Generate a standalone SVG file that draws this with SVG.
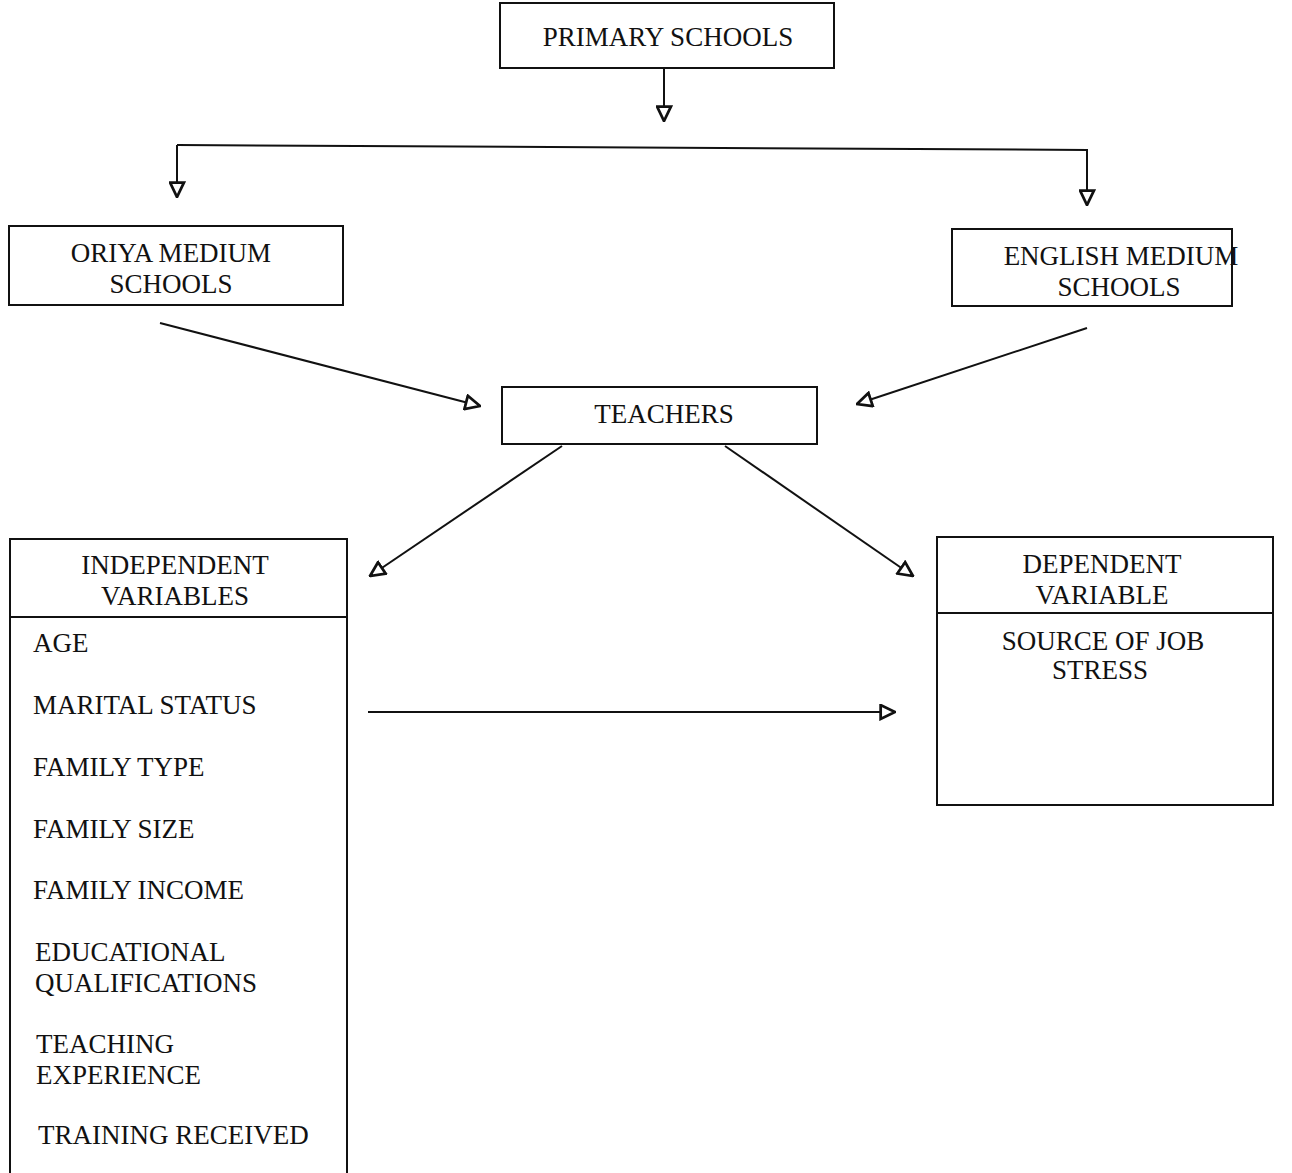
<svg xmlns="http://www.w3.org/2000/svg" width="1292" height="1173" viewBox="0 0 1292 1173">
<style>
.box{fill:#fff;stroke:#111;stroke-width:2}
.ln{fill:none;stroke:#111;stroke-width:2}
text{font-family:"Liberation Serif","Times New Roman",serif;font-size:27px;fill:#111}
.c{text-anchor:middle}
</style>
<defs>
<marker id="ah" viewBox="0 0 16 16" refX="15" refY="8" markerWidth="17" markerHeight="17" markerUnits="userSpaceOnUse" orient="auto">
<path d="M1.5,1.5 L15,8 L1.5,14.5 Z" fill="#fff" stroke="#111" stroke-width="2.6" stroke-linejoin="miter"/>
</marker>
</defs>
<rect width="1292" height="1173" fill="#fff"/>
<g id="connectors">
<path class="ln" d="M664,68 V121" marker-end="url(#ah)"/>
<path class="ln" d="M177,145 L1087,150 V205" marker-end="url(#ah)"/>
<path class="ln" d="M177,145 V197" marker-end="url(#ah)"/>
<path class="ln" d="M160,323 L480,406" marker-end="url(#ah)"/>
<path class="ln" d="M1087,328 L857,404" marker-end="url(#ah)"/>
<path class="ln" d="M562,446 L370,576" marker-end="url(#ah)"/>
<path class="ln" d="M725,446 L913,576" marker-end="url(#ah)"/>
<path class="ln" d="M368,712 L895,712" marker-end="url(#ah)"/>
</g>
<g id="primary">
<rect class="box" x="500" y="3" width="334" height="65"/>
<text class="c" x="668" y="46">PRIMARY SCHOOLS</text>
</g>
<g id="oriya">
<rect class="box" x="9" y="226" width="334" height="79"/>
<text class="c" x="171" y="262">ORIYA MEDIUM</text>
<text class="c" x="171" y="293">SCHOOLS</text>
</g>
<g id="english">
<rect class="box" x="952" y="229" width="280" height="77"/>
<text class="c" x="1121" y="265">ENGLISH MEDIUM</text>
<text class="c" x="1119" y="296">SCHOOLS</text>
</g>
<g id="teachers">
<rect class="box" x="502" y="387" width="315" height="57"/>
<text class="c" x="664" y="423">TEACHERS</text>
</g>
<g id="independent">
<rect class="box" x="10" y="539" width="337" height="650"/>
<line class="ln" x1="10" y1="617" x2="347" y2="617"/>
<text class="c" x="175" y="574">INDEPENDENT</text>
<text class="c" x="175" y="605">VARIABLES</text>
<text x="33" y="652">AGE</text>
<text x="33" y="714">MARITAL STATUS</text>
<text x="33" y="776">FAMILY TYPE</text>
<text x="33" y="838">FAMILY SIZE</text>
<text x="33" y="899">FAMILY INCOME</text>
<text x="35" y="961">EDUCATIONAL</text>
<text x="35" y="992">QUALIFICATIONS</text>
<text x="36" y="1053">TEACHING</text>
<text x="36" y="1084">EXPERIENCE</text>
<text x="38" y="1144">TRAINING RECEIVED</text>
</g>
<g id="dependent">
<rect class="box" x="937" y="537" width="336" height="268"/>
<line class="ln" x1="937" y1="613" x2="1273" y2="613"/>
<text class="c" x="1102" y="573">DEPENDENT</text>
<text class="c" x="1102" y="604">VARIABLE</text>
<text class="c" x="1103" y="650">SOURCE OF JOB</text>
<text class="c" x="1100" y="679">STRESS</text>
</g>
</svg>
